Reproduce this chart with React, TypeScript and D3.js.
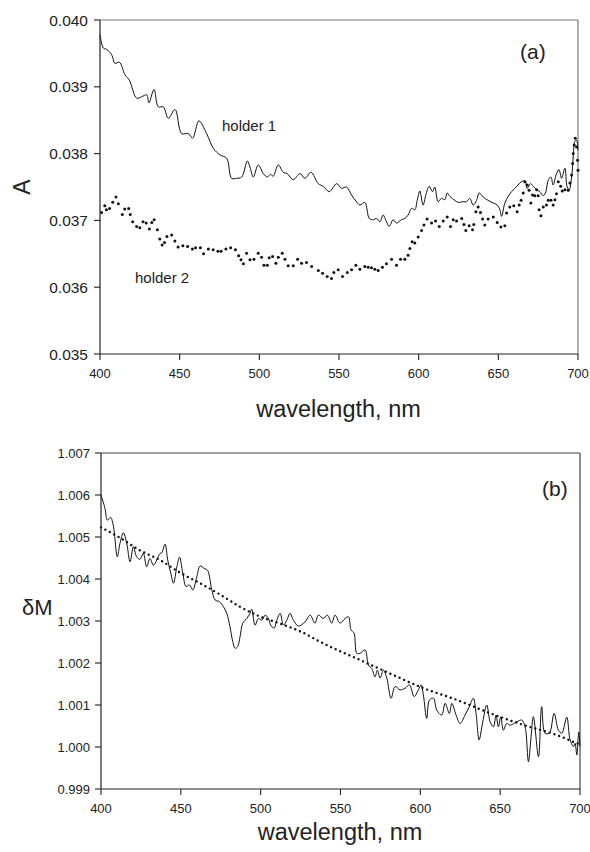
import React from "react";
import * as d3 from "d3";

// ---------- Panel (a) data ----------
const holder1Wl = [400, 402.1, 404.2, 407.3, 409.4, 412.1, 415.7, 418.4, 423, 426.1, 429.3, 430.7, 433.9, 436.6, 439.7, 442.9, 447.1, 451.2, 455.4, 458.1, 462.1, 466.9, 471.1, 475.3, 479.5, 482.6, 485.8, 488.9, 492.5, 494.1, 496.2, 499.3, 502.5, 505, 507.1, 508.7, 511.9, 515, 517.5, 521.3, 525.5, 528.6, 532.4, 537, 540.1, 543.9, 548.5, 551.6, 554.7, 557.9, 560.6, 563.1, 566.2, 569, 571.5, 573.6, 575.7, 577.7, 579.8, 581.5, 584, 586.1, 589.2, 591.3, 593.4, 595.5, 597.6, 599.1, 600.7, 602.8, 604.5, 606.6, 608.7, 610.1, 612.2, 614.3, 616.4, 617.9, 619.6, 622.7, 624.8, 628, 630, 632.1, 634.2, 636.3, 638, 640.5, 643.6, 646.8, 649.3, 651, 652, 654.1, 656.2, 658.3, 660.4, 662.4, 664.5, 666.7, 668.1, 670.2, 671.9, 674, 676.1, 678.2, 679.8, 681.3, 683, 684.4, 686.5, 688.1, 689.7, 691.8, 693.2, 694.5, 696, 697, 698, 699.1, 700];
const holder1A = [0.03978, 0.03958, 0.03956, 0.03948, 0.03935, 0.03937, 0.03918, 0.0391, 0.03883, 0.03885, 0.03888, 0.03876, 0.03896, 0.0387, 0.0387, 0.03853, 0.03866, 0.0383, 0.0383, 0.03823, 0.03849, 0.0383, 0.03808, 0.03798, 0.03793, 0.03763, 0.03763, 0.03765, 0.03789, 0.0378, 0.03765, 0.03783, 0.0377, 0.03765, 0.03769, 0.03766, 0.03783, 0.03772, 0.0377, 0.03761, 0.0377, 0.03763, 0.03772, 0.03755, 0.03751, 0.03743, 0.03755, 0.03748, 0.0375, 0.03738, 0.03729, 0.03723, 0.03727, 0.03703, 0.03701, 0.03703, 0.03698, 0.03708, 0.03698, 0.03691, 0.03701, 0.03696, 0.03701, 0.03703, 0.03708, 0.03718, 0.03716, 0.0373, 0.03744, 0.03723, 0.03738, 0.03751, 0.03743, 0.0375, 0.03728, 0.03733, 0.03731, 0.03741, 0.03736, 0.0373, 0.03727, 0.03728, 0.03728, 0.03733, 0.03723, 0.0373, 0.03741, 0.03735, 0.0373, 0.03726, 0.03723, 0.03716, 0.03706, 0.03726, 0.03736, 0.03743, 0.03748, 0.03753, 0.03758, 0.03759, 0.03748, 0.03755, 0.03751, 0.03746, 0.03743, 0.03737, 0.03743, 0.0376, 0.03765, 0.03753, 0.0377, 0.03776, 0.03763, 0.03778, 0.0375, 0.03746, 0.03765, 0.03795, 0.03818, 0.0382, 0.03805];

const holder2Wl = [401, 403, 404, 406, 408, 410, 411.5, 414, 415.5, 418, 419, 420.5, 423, 425, 427, 429, 431, 432.5, 434, 436, 437.5, 439, 440.5, 442, 445, 447, 449, 452, 455, 458, 460, 463, 465, 468, 471, 474, 476, 479, 482, 485, 487, 488.5, 490, 492, 494.1, 496.6, 499.3, 501.4, 502.9, 505, 506.2, 508.3, 510.4, 511.9, 514.4, 516.1, 518.1, 521.3, 524, 526.5, 529.6, 532.8, 537, 539.7, 542.6, 545.3, 546.8, 549.5, 552.2, 555.2, 557.9, 560.6, 563.1, 566.2, 568.3, 570.4, 572.5, 574.6, 577.3, 579.8, 583, 586.1, 588.6, 591.3, 593.4, 594.5, 595.9, 597.6, 599.7, 601.8, 603.3, 605.3, 608.1, 610.6, 612.9, 615.4, 617.9, 620, 621.7, 623.8, 627, 628.4, 629.6, 631.7, 633.8, 634.6, 635.9, 637.3, 638.8, 640.1, 641.5, 643.6, 646.8, 649.3, 651.6, 654.1, 655.2, 657.2, 659.7, 661.8, 663.1, 664.3, 665.6, 666.7, 668.1, 669.3, 670.4, 671.5, 672.9, 674, 675, 675.6, 676.7, 678.2, 680.2, 681.3, 683, 684.4, 685.5, 686.5, 687.6, 689.1, 690.1, 691.8, 693.9, 694.9, 696, 696.6, 697, 697.6, 698.3, 699.1, 699.7, 700];
const holder2A = [0.03712, 0.03722, 0.03716, 0.03718, 0.03727, 0.03735, 0.03725, 0.03709, 0.03717, 0.03718, 0.03709, 0.03698, 0.03691, 0.03689, 0.03698, 0.03696, 0.03687, 0.03697, 0.03701, 0.03686, 0.03672, 0.03663, 0.03667, 0.03676, 0.03678, 0.03669, 0.0366, 0.03662, 0.03661, 0.03657, 0.03659, 0.03659, 0.0365, 0.03657, 0.03656, 0.03654, 0.03654, 0.03657, 0.03659, 0.03656, 0.03647, 0.03641, 0.03635, 0.03651, 0.03641, 0.03642, 0.03651, 0.03645, 0.03633, 0.03633, 0.03644, 0.03646, 0.03636, 0.03645, 0.03651, 0.03642, 0.03632, 0.03632, 0.03642, 0.03636, 0.03637, 0.03631, 0.03625, 0.03621, 0.03616, 0.03613, 0.03622, 0.03626, 0.03616, 0.03622, 0.03626, 0.03633, 0.03627, 0.03631, 0.0363, 0.03629, 0.03627, 0.03625, 0.0363, 0.03635, 0.03642, 0.03633, 0.03642, 0.03642, 0.03648, 0.03658, 0.03668, 0.03666, 0.03675, 0.03685, 0.03693, 0.03702, 0.03696, 0.03699, 0.03691, 0.03699, 0.03705, 0.03691, 0.03701, 0.03699, 0.03703, 0.03694, 0.03685, 0.03692, 0.03686, 0.03694, 0.03713, 0.0372, 0.03712, 0.03702, 0.03693, 0.03702, 0.03705, 0.03697, 0.0369, 0.03692, 0.03711, 0.0372, 0.03722, 0.03713, 0.03723, 0.0373, 0.03741, 0.03758, 0.03753, 0.03745, 0.03726, 0.03738, 0.03737, 0.03746, 0.03737, 0.03716, 0.03707, 0.0372, 0.03723, 0.0373, 0.0373, 0.03723, 0.03731, 0.0374, 0.03758, 0.03751, 0.03744, 0.03746, 0.03745, 0.03756, 0.03768, 0.03785, 0.038, 0.03813, 0.03823, 0.0381, 0.0379, 0.03775];

const aTicksY = [0.035, 0.036, 0.037, 0.038, 0.039, 0.04];
const xTicks = [400, 450, 500, 550, 600, 650, 700];

// ---------- Panel (b) data ----------
const dmWl = [400, 402.5, 404, 406, 407.8, 410.2, 411.9, 414, 416.1, 418.2, 420.3, 422.3, 424.4, 426.5, 428.6, 430.7, 432.8, 434.9, 437, 438, 440.1, 441.8, 443.7, 445.4, 447.5, 449.2, 451.2, 453.3, 455.4, 457.5, 460, 462.1, 464.6, 466.7, 469.4, 471.5, 474.2, 476.7, 478.8, 480.8, 482.3, 484, 485.6, 487.1, 488.8, 491.3, 493.3, 494.4, 496.5, 498.6, 500.7, 502.8, 504.9, 506.3, 508.4, 510.1, 512.2, 514.3, 516.4, 518.4, 520.5, 523.6, 527.8, 530.9, 534.1, 536.1, 539.3, 541.8, 544.5, 546.6, 549.7, 552.9, 555, 556.6, 558.5, 560.2, 562.2, 565.4, 567.5, 569.6, 571.6, 573.1, 574.8, 576.9, 579, 581.7, 584.2, 587.3, 590.4, 593.2, 596.1, 598.8, 600.5, 601.9, 604, 605.7, 608.2, 610.3, 613.4, 615.5, 618.2, 619.7, 622.4, 624.9, 628, 630.7, 633.2, 634.9, 636.8, 639.1, 641.6, 643.7, 645.8, 647.4, 648.9, 650.4, 652, 654.1, 656.2, 660.4, 663.5, 665.6, 667.7, 669.2, 670.8, 674, 676, 678.1, 680.8, 683.8, 686.5, 688.6, 691.7, 693.8, 695.9, 696.9, 698, 699.2, 700];
const dmVal = [1.006, 1.00568, 1.0054, 1.00547, 1.00525, 1.00453, 1.00485, 1.0051, 1.00485, 1.00441, 1.00477, 1.00453, 1.00447, 1.00461, 1.00429, 1.00449, 1.00433, 1.00445, 1.00461, 1.00462, 1.00483, 1.00445, 1.00414, 1.0039, 1.00429, 1.00452, 1.00414, 1.00382, 1.00386, 1.00374, 1.00405, 1.00431, 1.00425, 1.00421, 1.00374, 1.0035, 1.00346, 1.00334, 1.00318, 1.00286, 1.00255, 1.00235, 1.00239, 1.00263, 1.00295, 1.00306, 1.00318, 1.00328, 1.0029, 1.00306, 1.00302, 1.00314, 1.00306, 1.0029, 1.00283, 1.00302, 1.00318, 1.0029, 1.00302, 1.00318, 1.00302, 1.00288, 1.00298, 1.00314, 1.00295, 1.00314, 1.00306, 1.00314, 1.00295, 1.00314, 1.00295, 1.00306, 1.0031, 1.00279, 1.00271, 1.00223, 1.00223, 1.00231, 1.00195, 1.00187, 1.00167, 1.00183, 1.00164, 1.00183, 1.00164, 1.00116, 1.00144, 1.00136, 1.0014, 1.00148, 1.0012, 1.00136, 1.00148, 1.00124, 1.00068, 1.00112, 1.00116, 1.00088, 1.00076, 1.00104, 1.0008, 1.00104, 1.00076, 1.00056, 1.00076, 1.00096, 1.00116, 1.0008, 1.00017, 1.0006, 1.001, 1.0006, 1.00048, 1.00076, 1.00048, 1.00072, 1.0004, 1.00056, 1.00052, 1.0006, 1.00064, 1.00048, 0.99965, 1.00017, 1.00072, 0.99977, 1.00096, 1.00033, 1.00033, 1.0008, 1.0004, 1.00033, 1.00071, 1.00017, 1.00001, 1.00009, 0.99981, 1.00036, 1.00001];

const fitWl = [400, 412, 424, 437, 450, 462, 475, 487, 500, 512, 525, 539, 560, 581, 602, 623, 644, 665, 685, 698, 700];
const fitVal = [1.00523, 1.00498, 1.00469, 1.00445, 1.00414, 1.0039, 1.00362, 1.00334, 1.0031, 1.00294, 1.00275, 1.00247, 1.00211, 1.00175, 1.0014, 1.00112, 1.0008, 1.00052, 1.00029, 1.00009, 1.00006];

const bTicksY = [0.999, 1.0, 1.001, 1.002, 1.003, 1.004, 1.005, 1.006, 1.007];

const FONT = "'Liberation Sans', Arial, Helvetica, sans-serif";

export default function App() {
  // panel a
  const ax = d3.scaleLinear().domain([400, 700]).range([100, 578]);
  const ay = d3.scaleLinear().domain([0.035, 0.04]).range([354, 20]);
  // panel b
  const bx = d3.scaleLinear().domain([400, 700]).range([101, 580]);
  const by = d3.scaleLinear().domain([0.999, 1.007]).range([789, 453]);

  const h1 = holder1Wl.map((w, i) => [w, holder1A[i]] as [number, number]);
  const h2 = holder2Wl.map((w, i) => [w, holder2A[i]] as [number, number]);
  const dm = dmWl.map((w, i) => [w, dmVal[i]] as [number, number]);
  const fit = fitWl.map((w, i) => [w, fitVal[i]] as [number, number]);

  const lineA = d3
    .line<[number, number]>()
    .x((d) => ax(d[0]))
    .y((d) => ay(d[1]))
    .curve(d3.curveCatmullRom.alpha(0.5));
  const lineB = d3
    .line<[number, number]>()
    .x((d) => bx(d[0]))
    .y((d) => by(d[1]))
    .curve(d3.curveCatmullRom.alpha(0.5));
  const lineFit = d3
    .line<[number, number]>()
    .x((d) => bx(d[0]))
    .y((d) => by(d[1]))
    .curve(d3.curveMonotoneX);

  const [ax0, ax1] = ax.range();
  const [ay0, ay1] = ay.range();
  const [bx0, bx1] = bx.range();
  const [by0, by1] = by.range();

  return (
    <svg
      width={590}
      height={852}
      style={{ position: "absolute", left: 0, top: 0, background: "#fff" }}
      fontFamily={FONT}
    >
      <rect x={0} y={0} width={590} height={852} fill="#fff" />

      {/* ===== Panel (a) ===== */}
      <line x1={ax0} x2={ax1} y1={ay1} y2={ay1} stroke="#7a7a7a" strokeWidth={1.2} />
      <line x1={ax1} x2={ax1} y1={ay1} y2={ay0} stroke="#7a7a7a" strokeWidth={1.2} />
      <line x1={ax0} x2={ax0} y1={ay1} y2={ay0} stroke="#222" strokeWidth={1.2} />
      <line x1={ax0} x2={ax1} y1={ay0} y2={ay0} stroke="#222" strokeWidth={1.2} />
      {aTicksY.map((t) => (
        <g key={"ay" + t}>
          <line x1={ax0 - 6} x2={ax0} y1={ay(t)} y2={ay(t)} stroke="#222" strokeWidth={1.1} />
          <text x={88} y={ay(t)} dy="0.36em" textAnchor="end" fontSize={15.5} fill="#222">
            {t.toFixed(3)}
          </text>
        </g>
      ))}
      {xTicks.map((t) => (
        <g key={"ax" + t}>
          <line x1={ax(t)} x2={ax(t)} y1={ay0} y2={ay0 + 6} stroke="#222" strokeWidth={1.1} />
          <text x={ax(t)} y={378} textAnchor="middle" fontSize={13} fill="#222">
            {t}
          </text>
        </g>
      ))}
      <path d={lineA(h1) || ""} fill="none" stroke="#111" strokeWidth={1} />
      {h2.map((d, i) => (
        <circle key={"h2" + i} cx={ax(d[0])} cy={ay(d[1])} r={1.5} fill="#111" />
      ))}
      <text x={222} y={131} fontSize={15} fill="#222">holder 1</text>
      <text x={135} y={283} fontSize={15} fill="#222">holder 2</text>
      <text x={520} y={59} fontSize={21} fill="#222">(a)</text>
      <text transform="translate(30,187) rotate(-90)" textAnchor="middle" fontSize={23} fill="#222">
        A
      </text>
      <text x={338.5} y={417} textAnchor="middle" fontSize={23.5} fill="#222">
        wavelength, nm
      </text>

      {/* ===== Panel (b) ===== */}
      <line x1={bx0} x2={bx1} y1={by1} y2={by1} stroke="#444" strokeWidth={1.2} />
      <line x1={bx1} x2={bx1} y1={by1} y2={by0} stroke="#444" strokeWidth={1.2} />
      <line x1={bx0} x2={bx0} y1={by1} y2={by0} stroke="#222" strokeWidth={1.2} />
      <line x1={bx0} x2={bx1} y1={by0} y2={by0} stroke="#222" strokeWidth={1.2} />
      {bTicksY.map((t) => (
        <g key={"by" + t}>
          <line x1={bx0 - 6} x2={bx0} y1={by(t)} y2={by(t)} stroke="#222" strokeWidth={1.1} />
          <text x={90} y={by(t)} dy="0.36em" textAnchor="end" fontSize={13} fill="#222">
            {t.toFixed(3)}
          </text>
        </g>
      ))}
      {xTicks.map((t) => (
        <g key={"bx" + t}>
          <line x1={bx(t)} x2={bx(t)} y1={by0} y2={by0 + 6} stroke="#222" strokeWidth={1.1} />
          <text x={bx(t)} y={813} textAnchor="middle" fontSize={13} fill="#222">
            {t}
          </text>
        </g>
      ))}
      <path d={lineB(dm) || ""} fill="none" stroke="#111" strokeWidth={1} />
      <path
        d={lineFit(fit) || ""}
        fill="none"
        stroke="#111"
        strokeWidth={2.4}
        strokeLinecap="round"
        strokeDasharray="0 5"
      />
      <text x={542} y={496} fontSize={21} fill="#222">(b)</text>
      <text x={22} y={615} fontSize={22} fill="#222">δM</text>
      <text x={340} y={840} textAnchor="middle" fontSize={23.5} fill="#222">
        wavelength, nm
      </text>
    </svg>
  );
}
